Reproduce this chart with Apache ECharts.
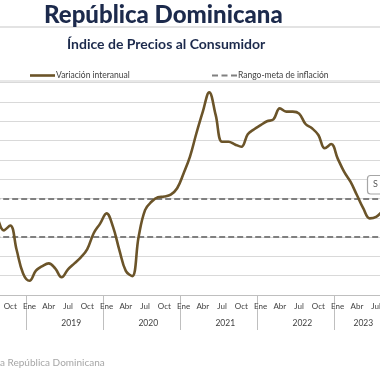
<!DOCTYPE html>
<html><head><meta charset="utf-8">
<script src="https://cdn.jsdelivr.net/npm/echarts@6/dist/echarts.min.js"></script>
<style>html,body{margin:0;padding:0;background:#fff}#c{width:380px;height:380px}</style>
</head><body><div id="c"></div>
<script>
// ---- data ----
const monthNames = ['Ene','Feb','Mar','Abr','May','Jun','Jul','Ago','Sep','Oct','Nov','Dic'];
const startYear = 2018;
const startMonth = 7; // Aug 2018 (0-based)
// Variación interanual (%), Aug 2018 - Sep 2023
const inflation = [
  4.1, 3.35, 3.6, 2.33, 1.12,
  0.74, 1.26, 1.5, 1.64, 1.38, 0.92, 1.33, 1.64, 1.95, 2.38, 3.2, 3.7,
  4.23, 3.54, 2.33, 1.25, 0.98, 3.02, 4.4, 4.83, 5.06, 5.1, 5.2, 5.53,
  6.3, 7.17, 8.38, 9.5, 10.5, 9.33, 7.94, 7.94, 7.8, 7.68, 8.33, 8.59,
  8.8, 9.0, 9.1, 9.67, 9.5, 9.5, 9.4, 8.86, 8.64, 8.29, 7.6, 7.82,
  7.08, 6.39, 5.87, 5.18, 4.49, 3.97, 4.05, 4.35, 4.6
];
const targetRange = [3, 5];
const monthLabelsShown = ['Ene','Abr','Jul','Oct'];
const yearLabelAt = {'2019-06':'2019','2020-06':'2020','2021-06':'2021','2022-06':'2022','2023-04':'2023'};
const fullYearLabels = ['2019','2020','2021','2022'];

const periods = [];
for (let i = 0; i < inflation.length; i++) {
  const t = startMonth + i;
  const y = startYear + Math.floor(t / 12);
  const m = t % 12;
  periods.push(y + '-' + String(m + 1).padStart(2, '0') + '|' + monthNames[m]);
}
function monthOf(v){ return v.split('|')[1]; }
function keyOf(v){ const p = v.split('|')[0].split('-'); return p[0] + '-' + String(+p[1]-1).padStart(2,'0'); }

const FONT = 'Lato';
const chart = echarts.init(document.getElementById('c'), null, {renderer:'canvas'});
chart.setOption({
  animation: false,
  backgroundColor: '#ffffff',
  title: [
    {text: 'República Dominicana', left: 39, top: -2,
     textStyle: {fontFamily: FONT, fontSize: 24, fontWeight: 900, color: '#1c2a4c'}},
    {text: 'Índice de Precios al Consumidor', left: 62, top: 32,
     textStyle: {fontFamily: FONT, fontSize: 14, fontWeight: 'bold', color: '#1c2a4c'}}
  ],
  legend: [
    {data: ['Variación interanual'], left: 25, top: 66, itemWidth: 25, itemHeight: 2.6, itemGap: 0,
     icon: 'rect',
     textStyle: {fontFamily: FONT, fontSize: 8.5, color: '#404040', padding: [0,0,0,-4]}},
    {data: ['Rango-meta de inflación'], left: 207, top: 66, itemWidth: 25, itemHeight: 2, itemGap: 0,
     icon: 'path://M0,0h6v2h-6z M9.5,0h6v2h-6z M19,0h6v2h-6z',
     textStyle: {fontFamily: FONT, fontSize: 8.5, color: '#404040', padding: [0,0,0,-4]}}
  ],
  grid: {left: -5.81, right: -12.2, top: 82.7, bottom: 85, containLabel: false, outerBoundsMode: 'none'},
  xAxis: [
    {type: 'category', data: periods, boundaryGap: true,
     axisLine: {show: true, lineStyle: {color: '#bfbfbf', width: 1}},
     axisTick: {show: true, length: 35, interval: (i, v) => monthOf(v) === 'Ene', lineStyle: {color: '#bfbfbf', width: 1}},
     axisLabel: {interval: (i, v) => monthLabelsShown.includes(monthOf(v)), formatter: v => monthOf(v),
       margin: 7, fontFamily: FONT, fontSize: 8, color: '#404040'},
     splitLine: {show: false}},
    {type: 'category', data: periods, boundaryGap: true, position: 'bottom',
     axisLine: {show: false}, axisTick: {show: false},
     axisLabel: {interval: (i, v) => yearLabelAt[keyOf(v)] !== undefined,
       formatter: v => { const y = yearLabelAt[keyOf(v)]; return fullYearLabels.includes(y) ? '{f|' + y + '}' : '{p|' + y + '}'; },
       margin: 24, fontFamily: FONT, fontSize: 8.5, color: '#404040',
       rich: {f: {fontFamily: FONT, fontSize: 8.5, color: '#404040', padding: [0, 0, 0, 6.42]},
              p: {fontFamily: FONT, fontSize: 8.5, color: '#404040'}}},
     splitLine: {show: false}}
  ],
  yAxis: {type: 'value', min: 0, max: 11, interval: 1,
    axisLine: {show: false}, axisTick: {show: false}, axisLabel: {show: false},
    splitLine: {show: true, lineStyle: {color: '#d9d9d9', width: 1}}},
  series: [
    {name: 'Variación interanual', type: 'line', data: inflation, smooth: 0.4, symbol: 'none',
     lineStyle: {color: '#6b5429', width: 2.6}, itemStyle: {color: '#6b5429'}, z: 5},
    {name: 'Rango-meta de inflación', type: 'line', data: [], symbol: 'none',
     lineStyle: {color: '#808080', width: 2, type: [6, 3]}, itemStyle: {color: '#808080'},
     markLine: {silent: true, symbol: 'none', label: {show: false},
       lineStyle: {color: '#808080', width: 2, type: [6, 3]},
       data: targetRange.map(v => ({yAxis: v}))}, z: 3}
  ],
  graphic: [
    {type: 'line', shape: {x1: 0, y1: 27, x2: 380, y2: 27}, style: {stroke: '#e3e3e3', lineWidth: 2}, silent: true},
    {type: 'line', shape: {x1: 0, y1: 81, x2: 380, y2: 81}, style: {stroke: '#e8e8e8', lineWidth: 2}, silent: true},
    {type: 'rect', shape: {x: 367.5, y: 175.5, width: 30, height: 18.5, r: 3}, style: {fill: '#ffffff', stroke: '#a6a6a6', lineWidth: 1.2}, z: 10},
    {type: 'text', style: {x: 373, y: 184.5, text: 'S', fontFamily: FONT, fontSize: 9, fill: '#595959', textVerticalAlign: 'middle'}, z: 11},
    {type: 'text', style: {x: 0, y: 363, text: 'a República Dominicana', fontFamily: FONT, fontSize: 10, fill: '#a6a6a6', textVerticalAlign: 'middle'}}
  ]
});
</script></body></html>
